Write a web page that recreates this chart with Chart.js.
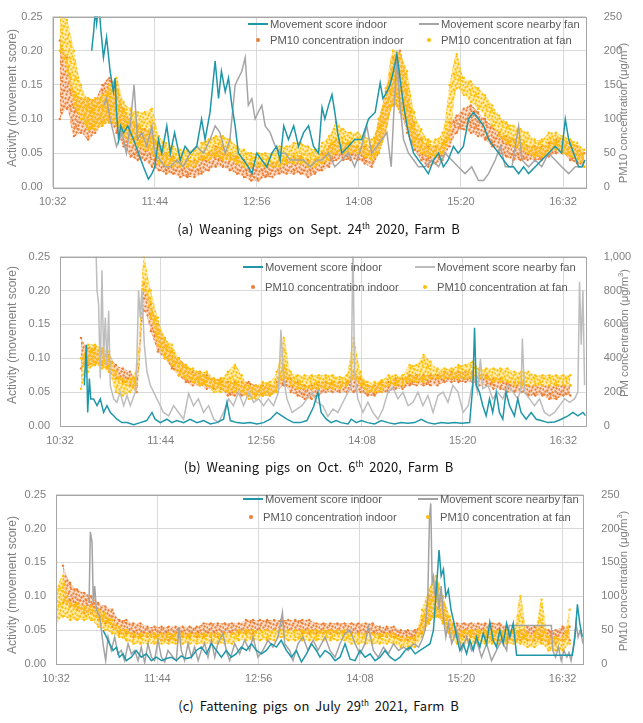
<!DOCTYPE html>
<html>
<head>
<meta charset="utf-8">
<script src="https://cdn.jsdelivr.net/npm/chart.js@4.4.1/dist/chart.umd.min.js"></script>
<style>
    html, body { margin: 0; padding: 0; background: #fff; }
    #page { position: relative; width: 643px; height: 723px; overflow: hidden; font-family: "Liberation Sans", Arial, sans-serif; }
    .panel { position: absolute; left: 0; width: 643px; height: 210px; }
    .panel canvas { display: block; }
    .ytitle { position: absolute; white-space: nowrap; color: #7f7f7f; font-size: 12px; transform: translate(-50%, -50%) rotate(-90deg); }
    .ytitle.right { font-size: 11.3px; }
    .ytitle sup { font-size: 7.5px; }
    .item { position: absolute; height: 14px; display: flex; align-items: center; color: #595959; font-size: 11.2px; white-space: nowrap; }
    .mark { width: 20px; height: 14px; position: relative; margin-right: 2px; }
    .mark.line::after { content: ""; position: absolute; left: 0; right: 0; top: 6px; height: 2px; background: var(--c); }
    .mark.dot::after { content: ""; position: absolute; left: 8px; top: 5px; width: 4px; height: 4px; border-radius: 2px; background: var(--c); }
    .caption { position: absolute; left: 0; width: 637px; text-align: center; font-family: "Noto Sans CJK KR", sans-serif; font-size: 13px; color: #111; word-spacing: 3px; }
    .caption sup { font-size: 8px; }
</style>
</head>
<body>
<div id="page">
    <div class="panel" style="top:0"><canvas id="chartSep" width="643" height="210"></canvas></div>
    <div class="panel" style="top:240px"><canvas id="chartOct" width="643" height="210"></canvas></div>
    <div class="panel" style="top:478px"><canvas id="chartJul" width="643" height="210"></canvas></div>

    <div class="ytitle" style="left:12px;top:98px">Activity (movement score)</div>
    <div class="ytitle right" style="left:622px;top:113px">PM10 concentration (μg/m<sup>3</sup>)</div>
    <div class="ytitle" style="left:12px;top:335px">Activity (movement score)</div>
    <div class="ytitle right" style="left:623px;top:333px">PM concentration (μg/m<sup>3</sup>)</div>
    <div class="ytitle" style="left:12px;top:585px">Activity (movement score)</div>
    <div class="ytitle right" style="left:622px;top:581px">PM10 concentration (μg/m<sup>3</sup>)</div>

    <div class="caption" style="top:219px">(a) Weaning pigs on Sept. 24<sup>th</sup> 2020, Farm B</div>
    <div class="caption" style="top:457px">(b) Weaning pigs on Oct. 6<sup>th</sup> 2020, Farm B</div>
    <div class="caption" style="top:696px">(c) Fattening pigs on July 29<sup>th</sup> 2021, Farm B</div>
</div>

<script>
// x axis: minutes after 10:32
const tickMinutes = [0, 72, 144, 216, 288, 360];
const tickLabels = ['10:32', '11:44', '12:56', '14:08', '15:20', '16:32'];

const legendNames = ['Movement score indoor', 'Movement score nearby fan', 'PM10 concentration indoor', 'PM10 concentration at fan'];

// PM sampling grid (min), 5 min steps
const pmTime = [
    0, 5, 10, 15, 20, 25, 30, 35, 40, 45,
    50, 55, 60, 65, 70, 75, 80, 85, 90, 95,
    100, 105, 110, 115, 120, 125, 130, 135, 140, 145,
    150, 155, 160, 165, 170, 175, 180, 185, 190, 195,
    200, 205, 210, 215, 220, 225, 230, 235, 240, 245,
    250, 255, 260, 265, 270, 275, 280, 285, 290, 295,
    300, 305, 310, 315, 320, 325, 330, 335, 340, 345,
    350, 355, 360, 365, 370, 375,
];

// ---- (a) Sept. 24th 2020 ----
const sepIndoorTime = [27.5, 29, 30, 31, 32.5, 34, 35.8, 38, 40.5, 42.8, 44, 45, 46.5, 48, 50, 53, 57, 60.5, 64, 67.5, 70, 72, 74.6, 77, 80.5, 83, 86, 90, 93.4, 97, 101.6, 105, 107.5, 111, 114.6, 117, 119, 121.7, 124, 126.4, 128.7, 131, 134.6, 138, 140.5, 144, 147.5, 151, 154.6, 158, 160.5, 163, 166.3, 170, 173.4, 177, 180.5, 184, 187.5, 190, 192, 194.6, 197, 199, 201, 204, 208.7, 213, 218, 222.8, 227.5, 231, 233, 235.8, 238, 240.4, 242.8, 245, 247.5, 250, 252, 254.6, 258, 261.7, 265, 268.7, 272.2, 275.6, 279, 282.7, 286, 289.7, 293.3, 296.8, 300.4, 304, 307.5, 311, 314.6, 318, 321.7, 325, 328.7, 332.2, 335.7, 340.4, 345, 349.8, 354.5, 359, 361.6, 364, 367.5, 371, 373.4, 375.3];
const sepIndoorMove = [0.20, 0.23, 0.26, 0.24, 0.27, 0.23, 0.19, 0.22, 0.17, 0.14, 0.16, 0.11, 0.07, 0.09, 0.08, 0.09, 0.07, 0.05, 0.03, 0.012, 0.02, 0.03, 0.07, 0.05, 0.09, 0.05, 0.08, 0.04, 0.06, 0.05, 0.06, 0.10, 0.07, 0.11, 0.185, 0.13, 0.17, 0.14, 0.16, 0.12, 0.09, 0.05, 0.04, 0.03, 0.02, 0.05, 0.04, 0.03, 0.05, 0.06, 0.04, 0.09, 0.07, 0.09, 0.06, 0.08, 0.09, 0.06, 0.05, 0.117, 0.10, 0.12, 0.136, 0.11, 0.08, 0.05, 0.06, 0.07, 0.07, 0.10, 0.11, 0.153, 0.13, 0.14, 0.15, 0.17, 0.195, 0.16, 0.12, 0.09, 0.07, 0.05, 0.04, 0.03, 0.02, 0.04, 0.05, 0.03, 0.04, 0.06, 0.05, 0.06, 0.10, 0.11, 0.10, 0.09, 0.07, 0.06, 0.05, 0.04, 0.03, 0.03, 0.02, 0.03, 0.02, 0.03, 0.04, 0.05, 0.06, 0.05, 0.10, 0.07, 0.05, 0.03, 0.03, 0.04];
const sepFanTime = [36, 38, 40.5, 42.8, 45, 48.7, 52, 54.6, 57.4, 59.8, 62.8, 66.4, 70, 72, 75.8, 79.3, 83, 87.5, 92, 97, 101.6, 106.4, 111, 114.6, 118, 121.7, 125, 128.7, 131, 133.4, 135.8, 138, 140.5, 142.8, 145, 147.5, 149.9, 153.4, 157, 160.5, 164, 167.5, 172.2, 177, 181.6, 186.4, 190, 194.6, 199, 204, 208.7, 213, 218, 221.6, 225, 228.6, 232.2, 235.8, 238.8, 240.4, 242.8, 245, 247.5, 251, 254.6, 258, 262.7, 267.5, 272.2, 276.8, 281.5, 286, 290.9, 295.6, 300.4, 304, 307.5, 312.2, 315.8, 319.3, 324, 328.7, 331, 335.7, 340.4, 345, 349.8, 354.5, 359, 364, 368.6, 373.4, 375.7];
const sepFanMove = [0.12, 0.13, 0.10, 0.08, 0.06, 0.08, 0.05, 0.09, 0.15, 0.07, 0.08, 0.06, 0.09, 0.05, 0.04, 0.03, 0.03, 0.04, 0.03, 0.05, 0.06, 0.05, 0.07, 0.09, 0.08, 0.05, 0.07, 0.15, 0.16, 0.17, 0.19, 0.12, 0.13, 0.10, 0.11, 0.12, 0.09, 0.08, 0.06, 0.05, 0.05, 0.04, 0.04, 0.04, 0.03, 0.04, 0.04, 0.05, 0.03, 0.04, 0.05, 0.03, 0.06, 0.09, 0.05, 0.06, 0.07, 0.08, 0.03, 0.10, 0.19, 0.12, 0.07, 0.05, 0.04, 0.03, 0.03, 0.04, 0.03, 0.05, 0.04, 0.03, 0.02, 0.03, 0.01, 0.01, 0.02, 0.04, 0.06, 0.03, 0.03, 0.09, 0.04, 0.03, 0.04, 0.03, 0.05, 0.04, 0.03, 0.02, 0.03, 0.03, 0.04];
const sepPmIndoorLo = [
    null, 100, 115, 75, 80, 70, 80, 90, 95, 80,
    60, 45, 40, 40, 30, 25, 20, 20, 15, 15,
    15, 20, 25, 30, 30, 25, 20, 15, 10, 10,
    15, 15, 20, 20, 20, 20, 15, 20, 25, 30,
    40, 40, 40, 40, 35, 30, 50, 80, 120, 110,
    80, 55, 40, 30, 35, 40, 60, 80, 85, 80,
    75, 70, 60, 50, 45, 40, 40, 40, 40, 40,
    45, 50, 50, 40, 35, 30,
];
const sepPmIndoorHi = [
    null, 215, 190, 140, 130, 130, 130, 150, 160, 150,
    115, 100, 90, 85, 80, 60, 50, 45, 40, 40,
    40, 45, 50, 60, 60, 50, 45, 40, 35, 35,
    35, 35, 40, 40, 45, 45, 40, 40, 50, 60,
    70, 65, 65, 60, 60, 60, 100, 140, 190, 200,
    150, 95, 70, 60, 60, 65, 95, 105, 115, 120,
    110, 100, 90, 80, 75, 70, 65, 60, 60, 60,
    65, 70, 70, 65, 60, 50,
];
const sepPmFanLo = [
    null, 200, 170, 120, 100, 85, 85, 90, 95, 90,
    75, 65, 60, 55, 50, 35, 30, 30, 30, 30,
    30, 40, 40, 45, 40, 40, 35, 30, 30, 30,
    30, 30, 30, 35, 35, 35, 30, 30, 35, 40,
    50, 50, 50, 50, 45, 40, 50, 80, 120, 110,
    90, 60, 50, 45, 45, 50, 70, 145, 135, 125,
    115, 105, 90, 75, 65, 60, 55, 50, 45, 45,
    50, 55, 50, 45, 40, 30,
];
const sepPmFanHi = [
    null, 250, 245, 200, 150, 130, 130, 135, 150, 160,
    125, 115, 110, 110, 115, 75, 65, 60, 55, 55,
    55, 65, 70, 75, 75, 70, 60, 55, 50, 50,
    50, 50, 60, 60, 65, 65, 60, 55, 65, 75,
    95, 85, 80, 80, 75, 70, 100, 145, 200, 195,
    170, 110, 85, 70, 70, 80, 150, 195, 160, 155,
    145, 135, 120, 105, 95, 90, 85, 80, 70, 70,
    80, 80, 75, 70, 65, 55,
];

// ---- (b) Oct. 6th 2020 ----
const octIndoorTime = [17.4, 18.8, 19.8, 21, 22, 24, 26.5, 28.8, 31.2, 33.6, 36, 38.4, 40.7, 44.3, 48, 52.7, 57.4, 62, 65.8, 68, 71.7, 76.5, 80, 83.6, 88.4, 93, 98, 102.7, 107.5, 112, 117, 119.4, 121.8, 126.5, 131.3, 136, 140.8, 145.6, 150.4, 155, 158.7, 162.3, 167, 171.8, 176.6, 181.3, 184.5, 186.8, 190.4, 194, 197.6, 201, 206, 208.3, 211.9, 215.5, 220, 225, 229.8, 234.6, 239.3, 244, 248.8, 253.6, 258.4, 263, 267.9, 272.7, 277.5, 282.2, 287, 293, 295.3, 296.5, 297.7, 300, 302.4, 304.8, 307.2, 309.5, 312, 314.3, 316.7, 319, 321.5, 325, 327.4, 329.8, 333.4, 337, 340.6, 344.2, 349, 353.7, 358.5, 363.3, 366.9, 370.4, 374, 376];
const octIndoorMove = [0.06, 0.12, 0.02, 0.07, 0.04, 0.04, 0.03, 0.04, 0.02, 0.03, 0.02, 0.015, 0.01, 0.005, 0.005, 0.002, 0.005, 0.008, 0.02, 0.01, 0.005, 0.01, 0.005, 0.008, 0.005, 0.01, 0.005, 0.008, 0.003, 0.005, 0.01, 0.035, 0.008, 0.005, 0.004, 0.005, 0.003, 0.005, 0.01, 0.02, 0.015, 0.01, 0.005, 0.005, 0.008, 0.028, 0.05, 0.02, 0.01, 0.005, 0.008, 0.005, 0.003, 0.01, 0.005, 0.008, 0.005, 0.003, 0.008, 0.005, 0.003, 0.005, 0.004, 0.005, 0.01, 0.005, 0.003, 0.005, 0.004, 0.005, 0.004, 0.005, 0.06, 0.145, 0.06, 0.05, 0.03, 0.015, 0.04, 0.02, 0.05, 0.02, 0.01, 0.05, 0.03, 0.015, 0.04, 0.02, 0.01, 0.02, 0.01, 0.008, 0.005, 0.006, 0.01, 0.015, 0.02, 0.015, 0.02, 0.015];
const octFanTime = [24, 25.3, 26.5, 27.6, 28.8, 30, 31.2, 32.4, 33.6, 34.8, 36, 38.4, 40.7, 43, 45.5, 48, 50.3, 53.9, 55, 56.2, 57.4, 58.6, 60.3, 62.2, 64.6, 67, 69.3, 71.7, 74, 77.7, 81.3, 84.8, 88.4, 92, 95.5, 99, 102.7, 106.3, 110, 113.4, 117, 120.6, 124, 127.7, 131.3, 135, 138.5, 142, 145.6, 149, 152.7, 156.3, 158, 160, 162.3, 166, 169.4, 173, 176.6, 180.2, 183.7, 188, 191.6, 195.2, 198.8, 202.4, 206, 208.3, 209.5, 210.7, 213, 216.7, 220.2, 223.8, 227.4, 231, 234.6, 238, 241.7, 245.3, 249, 252.5, 256, 259.6, 263.2, 266.8, 270.4, 274, 277.5, 281, 284.7, 288.3, 292, 294.8, 296.5, 298.6, 300.7, 302.4, 306, 309.5, 313, 316.7, 320.3, 324, 327.4, 329.8, 330.7, 332.2, 335.8, 339.4, 343, 346.5, 350, 353.7, 357.3, 361, 364.5, 368, 370.4, 371.6, 372.8, 374, 375.2];
const octFanMove = [0.27, 0.30, 0.20, 0.18, 0.07, 0.23, 0.10, 0.16, 0.09, 0.17, 0.06, 0.04, 0.035, 0.05, 0.03, 0.045, 0.03, 0.05, 0.10, 0.20, 0.16, 0.20, 0.12, 0.08, 0.06, 0.05, 0.04, 0.03, 0.02, 0.015, 0.03, 0.02, 0.01, 0.048, 0.03, 0.04, 0.02, 0.03, 0.01, 0.005, 0.02, 0.04, 0.03, 0.05, 0.03, 0.05, 0.035, 0.04, 0.03, 0.04, 0.03, 0.05, 0.142, 0.07, 0.04, 0.02, 0.025, 0.03, 0.04, 0.05, 0.035, 0.03, 0.014, 0.025, 0.02, 0.035, 0.05, 0.06, 0.27, 0.08, 0.04, 0.02, 0.035, 0.02, 0.01, 0.025, 0.05, 0.057, 0.04, 0.05, 0.03, 0.035, 0.05, 0.03, 0.045, 0.02, 0.045, 0.05, 0.035, 0.06, 0.05, 0.02, 0.03, 0.06, 0.07, 0.05, 0.099, 0.055, 0.06, 0.04, 0.05, 0.04, 0.06, 0.05, 0.04, 0.055, 0.129, 0.05, 0.04, 0.03, 0.04, 0.02, 0.015, 0.02, 0.03, 0.04, 0.035, 0.04, 0.05, 0.213, 0.12, 0.20, 0.06];
const octPmIndoorLo = [
    null, null, null, 340, 360, 360, 360, 320, 280, 260,
    240, 200, 680, 560, 440, 400, 340, 300, 260, 240,
    240, 220, 220, 220, 180, 180, 180, 180, 180, 180,
    180, 200, 240, 200, 180, 160, 160, 180, 200, 200,
    200, 200, 200, 200, 180, 180, 200, 200, 220, 220,
    240, 240, 240, 240, 240, 260, 260, 260, 260, 260,
    240, 240, 220, 220, 200, 200, 200, 180, 180, 180,
    160, 160, 180, 180, null, null,
];
const octPmIndoorHi = [
    null, null, null, 520, 460, 460, 440, 420, 360, 340,
    320, 280, 840, 720, 600, 520, 440, 400, 360, 320,
    320, 300, 280, 280, 260, 260, 260, 260, 240, 240,
    240, 260, 360, 280, 260, 240, 240, 260, 260, 260,
    260, 260, 320, 280, 240, 240, 260, 260, 280, 280,
    300, 300, 300, 300, 300, 320, 320, 320, 320, 320,
    300, 300, 280, 280, 260, 260, 260, 240, 240, 240,
    240, 240, 240, 240, null, null,
];
const octPmFanLo = [
    null, null, null, 220, 320, 360, 340, 320, 200, 180,
    200, 240, 800, 640, 480, 400, 360, 300, 280, 260,
    240, 240, 200, 200, 200, 200, 200, 160, 160, 180,
    180, 200, 280, 240, 220, 220, 220, 220, 220, 220,
    220, 240, 280, 240, 200, 200, 200, 240, 240, 240,
    260, 260, 260, 280, 280, 280, 280, 280, 280, 280,
    280, 280, 260, 260, 260, 240, 240, 240, 240, 240,
    240, 240, 240, 240, null, null,
];
const octPmFanHi = [
    null, null, null, 400, 480, 480, 460, 440, 320, 280,
    280, 360, 1000, 800, 640, 520, 480, 400, 360, 340,
    320, 320, 280, 280, 320, 360, 300, 240, 240, 260,
    260, 320, 520, 320, 300, 300, 300, 300, 300, 300,
    290, 300, 520, 320, 260, 260, 270, 300, 300, 300,
    360, 360, 420, 380, 340, 340, 340, 360, 360, 380,
    340, 340, 340, 340, 340, 320, 320, 320, 300, 300,
    300, 300, 300, 300, null, null,
];

// ---- (c) July 29th 2021 ----
const julIndoorTime = [33.4, 35.8, 38, 40.5, 43, 45, 47.6, 50, 53.5, 57, 60.6, 64.2, 67.8, 71.3, 75, 78.4, 82, 85.5, 89, 92.6, 96, 99.7, 103.3, 106.8, 110.4, 114, 117.5, 121, 124.6, 128, 131.7, 135.3, 138.8, 142.4, 146, 149.5, 153, 156.6, 160, 163.7, 167.3, 170.8, 174.4, 178, 181.5, 185, 187.6, 191.2, 194.7, 198.3, 201.8, 205.4, 209, 212.5, 216, 219.6, 223.2, 226.7, 230.3, 233.8, 237.4, 241, 244.5, 248, 251.6, 255.2, 258.7, 262.3, 265.8, 268.2, 270.6, 272.2, 273.7, 275.3, 277, 278.8, 280.7, 282.4, 284.7, 287, 289.4, 291.8, 294.1, 296.5, 298.8, 301.2, 303.6, 306, 308.3, 310.7, 313, 315.4, 317.8, 320.2, 322.5, 324.9, 327.3, 366.9, 368.8, 370.5, 372.2, 374];
const julIndoorMove = [0.05, 0.04, 0.03, 0.02, 0.025, 0.01, 0.015, 0.005, 0.01, 0.02, 0.01, 0.015, 0.005, 0.01, 0.005, 0.008, 0.01, 0.005, 0.012, 0.008, 0.01, 0.02, 0.025, 0.015, 0.03, 0.02, 0.01, 0.02, 0.01, 0.015, 0.025, 0.02, 0.03, 0.02, 0.015, 0.02, 0.03, 0.025, 0.035, 0.02, 0.01, 0.02, 0.003, 0.015, 0.03, 0.02, 0.01, 0.02, 0.015, 0.005, 0.01, 0.03, 0.007, 0.005, 0.02, 0.01, 0.015, 0.005, 0.01, 0.02, 0.01, 0.005, 0.01, 0.02, 0.025, 0.015, 0.02, 0.025, 0.03, 0.05, 0.12, 0.168, 0.13, 0.14, 0.10, 0.11, 0.08, 0.065, 0.04, 0.02, 0.03, 0.015, 0.035, 0.02, 0.04, 0.025, 0.045, 0.03, 0.062, 0.035, 0.025, 0.05, 0.03, 0.06, 0.04, 0.06, 0.013, 0.013, 0.04, 0.088, 0.06, 0.04];
const julFanTime = [23.5, 24.4, 25.6, 26.5, 27.5, 28.7, 31, 33.4, 35.3, 37, 39.3, 41.7, 44, 46.4, 48.8, 51.2, 53.5, 56, 58.3, 60.6, 63, 65.4, 67.8, 70, 72.5, 74.9, 77.2, 79.6, 83.2, 85.5, 87.4, 89, 91.4, 93.8, 96.2, 98.5, 101, 103.3, 105.7, 108, 110.4, 112.8, 115, 118.7, 121, 123.4, 127, 130.5, 134, 137.6, 140, 143.5, 147, 150.7, 154.2, 157.8, 160.9, 162.5, 166, 168.4, 172, 175.5, 179, 182.7, 186.2, 191.2, 194.7, 198.3, 201.8, 205.4, 209, 212.5, 216, 219.6, 222, 225.5, 229, 232.7, 236.2, 239.8, 243.4, 247, 250.4, 254, 257.6, 260, 262.3, 264.2, 265.4, 266.3, 267.3, 268.2, 269.4, 270.6, 272.2, 273.7, 275.3, 277, 278.8, 281.2, 284.7, 288.3, 291.8, 295.3, 298.8, 302.4, 306, 309.5, 313, 316.6, 320.2, 322, 352, 353, 355, 357, 359, 361, 363, 364.5, 366, 368, 369.5, 371, 372.5, 374.5];
const julFanMove = [0.09, 0.195, 0.18, 0.09, 0.115, 0.08, 0.07, 0.03, 0.005, 0.04, 0.02, 0.04, 0.015, 0.02, 0.005, 0.03, 0.015, 0.02, 0.005, 0.025, 0.002, 0.03, 0.01, 0.005, 0.035, 0.01, 0.003, 0.02, 0.01, 0.005, 0.055, 0.02, 0.005, 0.03, 0.01, 0.025, 0.005, 0.02, 0.03, 0.01, 0.035, 0.01, 0.03, 0.045, 0.02, 0.005, 0.03, 0.015, 0.035, 0.02, 0.04, 0.01, 0.02, 0.035, 0.025, 0.04, 0.076, 0.03, 0.02, 0.005, 0.03, 0.04, 0.02, 0.035, 0.02, 0.04, 0.02, 0.01, 0.03, 0.045, 0.05, 0.03, 0.015, 0.03, 0.055, 0.02, 0.01, 0.025, 0.015, 0.03, 0.02, 0.025, 0.02, 0.03, 0.025, 0.035, 0.05, 0.10, 0.217, 0.237, 0.12, 0.129, 0.10, 0.122, 0.08, 0.115, 0.07, 0.04, 0.06, 0.03, 0.05, 0.02, 0.04, 0.02, 0.035, 0.01, 0.03, 0.005, 0.02, 0.035, 0.02, 0.057, 0.057, 0.02, 0.01, 0.025, 0.005, 0.02, 0.01, 0.017, 0.005, 0.03, 0.06, 0.04, 0.05, 0.03];
const julPmIndoorLo = [
    null, 90, 85, 80, 75, 75, 65, 60, 55, 45,
    45, 40, 40, 40, 40, 35, 35, 35, 40, 40,
    40, 40, 40, 40, 45, 45, 45, 45, 45, 50,
    50, 50, 50, 50, 50, 45, 45, 45, 45, 45,
    45, 45, 45, 45, 45, 45, 40, 40, 40, 35,
    35, 35, 45, 60, 70, 60, 40, 40, 40, 40,
    40, 40, 35, 35, 35, 35, 35, 35, 35, 35,
    30, 30, 35, 35, null, null,
];
const julPmIndoorHi = [
    null, 145, 120, 110, 105, 100, 90, 85, 80, 65,
    65, 60, 60, 55, 55, 55, 55, 55, 55, 55,
    55, 60, 60, 60, 60, 60, 60, 65, 65, 65,
    65, 65, 65, 65, 65, 65, 65, 60, 60, 60,
    60, 60, 60, 60, 60, 60, 55, 55, 55, 50,
    50, 50, 65, 100, 120, 100, 65, 60, 60, 60,
    60, 60, 60, 60, 55, 50, 50, 55, 55, 55,
    50, 50, 55, 55, null, null,
];
const julPmFanLo = [
    60, 70, 65, 65, 65, 65, 55, 50, 45, 40,
    35, 30, 30, 30, 30, 30, 30, 30, 30, 30,
    30, 30, 30, 30, 30, 30, 35, 35, 35, 35,
    35, 35, 40, 35, 35, 35, 35, 35, 35, 35,
    35, 35, 30, 30, 30, 30, 30, 30, 30, 25,
    25, 25, 40, 60, 70, 60, 40, 30, 30, 30,
    30, 30, 30, 30, 30, 30, 30, 25, 25, 30,
    20, 20, 20, 30, null, null,
];
const julPmFanHi = [
    110, 130, 90, 90, 85, 85, 80, 75, 65, 55,
    50, 45, 45, 45, 45, 45, 45, 45, 45, 45,
    45, 45, 45, 45, 45, 45, 50, 50, 50, 50,
    50, 50, 50, 50, 50, 50, 50, 50, 50, 50,
    50, 50, 45, 45, 45, 45, 45, 45, 45, 40,
    40, 40, 80, 110, 130, 100, 70, 50, 50, 50,
    50, 50, 50, 50, 50, 50, 100, 45, 45, 95,
    40, 40, 40, 80, null, null,
];

const TEAL = '#1f97a9';
const ORANGE = '#ed7d31';
const YELLOW = '#ffc000';
const TICK_FONT = { family: '"Liberation Sans", Arial, sans-serif', size: 11 };

// dotted texture used to fill the PM scatter clouds (16px tile)
const SPECKS = [
    [1, 2], [5, 1], [9, 3], [13, 0], [3, 6], [7, 5], [11, 7], [15, 5], [0, 10], [5, 9],
    [9, 11], [13, 9], [2, 14], [6, 13], [10, 15], [14, 13], [4, 3], [12, 4], [1, 7], [8, 8],
    [15, 10], [3, 11], [11, 12], [7, 15], [14, 1], [6, 10], [10, 0], [12, 14],
];

function speckle(color, wash) {
    const tile = document.createElement('canvas');
    tile.width = 16;
    tile.height = 16;
    const g = tile.getContext('2d');
    g.fillStyle = wash;
    g.fillRect(0, 0, 16, 16);
    g.fillStyle = color;
    SPECKS.forEach(([x, y]) => {
        g.beginPath();
        g.arc(x + 0.5, y + 0.5, 1.15, 0, Math.PI * 2);
        g.fill();
    });
    return g.createPattern(tile, 'repeat');
}

const plotFrame = {
    id: 'plotFrame',
    afterDatasetsDraw(chart) {
        const { ctx, chartArea: a } = chart;
        ctx.save();
        ctx.strokeStyle = '#a6a6a6';
        ctx.lineWidth = 1;
        ctx.strokeRect(Math.round(a.left) + 0.5, Math.round(a.top) + 0.5, Math.round(a.right - a.left), Math.round(a.bottom - a.top));
        ctx.restore();
    },
};

function pairs(times, values) {
    return times.map((t, i) => ({ x: t, y: values[i] }));
}

function lineSet(times, values, color) {
    return {
        data: pairs(times, values),
        borderColor: color,
        borderWidth: 1.5,
        pointRadius: 0,
        tension: 0,
        fill: false,
        yAxisID: 'y',
    };
}

function dotSet(values, color, band) {
    return {
        data: pairs(pmTime, values),
        showLine: true,
        borderWidth: 0,
        borderColor: 'rgba(0,0,0,0)',
        backgroundColor: band || 'rgba(0,0,0,0)',
        fill: band ? '-1' : false,
        tension: 0.3,
        pointRadius: 1.2,
        pointBorderWidth: 0,
        pointBackgroundColor: color,
        yAxisID: 'pm',
    };
}

function buildPanel(canvasId, p) {
    new Chart(document.getElementById(canvasId), {
        type: 'line',
        data: {
            datasets: [
                lineSet(p.indoorTime, p.indoorMove, TEAL),
                lineSet(p.fanTime, p.fanMove, p.grey),
                dotSet(p.fanLo, YELLOW, null),
                dotSet(p.fanHi, YELLOW, speckle(YELLOW, 'rgba(255,192,0,0.3)')),
                dotSet(p.indoorLo, ORANGE, null),
                dotSet(p.indoorHi, ORANGE, speckle(ORANGE, 'rgba(237,125,49,0.25)')),
            ],
        },
        options: {
            responsive: false,
            animation: false,
            layout: { padding: { top: p.padTop, left: 0, right: 0, bottom: 0 } },
            plugins: {
                legend: { display: false },
                tooltip: { enabled: false },
            },
            scales: {
                x: {
                    type: 'linear',
                    min: 0,
                    max: p.xMax,
                    afterFit: (s) => { s.height = p.xHeight; },
                    afterBuildTicks: (s) => { s.ticks = tickMinutes.map((v) => ({ value: v })); },
                    grid: { color: '#d9d9d9', drawTicks: false },
                    border: { display: false },
                    ticks: {
                        padding: 8,
                        color: '#7f7f7f',
                        font: TICK_FONT,
                        maxRotation: 0,
                        autoSkip: false,
                        callback: (v) => tickLabels[tickMinutes.indexOf(v)],
                    },
                },
                y: {
                    position: 'left',
                    min: 0,
                    max: 0.25,
                    afterFit: (s) => { s.width = p.leftWidth; },
                    grid: { color: '#d9d9d9', drawTicks: false },
                    border: { display: false },
                    ticks: {
                        stepSize: 0.05,
                        padding: 10,
                        color: '#7f7f7f',
                        font: TICK_FONT,
                        callback: (v) => v.toFixed(2),
                    },
                },
                pm: {
                    position: 'right',
                    min: 0,
                    max: p.pmMax,
                    afterFit: (s) => { s.width = p.rightWidth; },
                    grid: { display: false },
                    border: { display: false },
                    ticks: {
                        stepSize: p.pmStep,
                        padding: 10,
                        color: '#7f7f7f',
                        font: TICK_FONT,
                        callback: (v) => v.toLocaleString('en-US'),
                    },
                },
            },
        },
        plugins: [plotFrame],
    });
}

function addLegend(rows, cols) {
    const page = document.getElementById('page');
    const kinds = [['line', TEAL], ['line', cols.grey], ['dot', ORANGE], ['dot', YELLOW]];
    legendNames.forEach((name, i) => {
        const row = Math.floor(i / 2);
        const textX = i % 2 === 0 ? cols.left[row] : cols.right[row];
        const item = document.createElement('div');
        item.className = 'item';
        item.style.left = (textX - 22) + 'px';
        item.style.top = (rows[row] - 7) + 'px';
        const mark = document.createElement('span');
        mark.className = 'mark ' + kinds[i][0];
        mark.style.setProperty('--c', kinds[i][1]);
        item.appendChild(mark);
        item.appendChild(document.createTextNode(name));
        page.appendChild(item);
    });
}

buildPanel('chartSep', {
    padTop: 15.3, xHeight: 22.7, leftWidth: 52.7, rightWidth: 57.3, xMax: 376,
    pmMax: 250, pmStep: 50, grey: '#a5a5a5',
    indoorTime: sepIndoorTime, indoorMove: sepIndoorMove,
    fanTime: sepFanTime, fanMove: sepFanMove,
    indoorLo: sepPmIndoorLo, indoorHi: sepPmIndoorHi,
    fanLo: sepPmFanLo, fanHi: sepPmFanHi,
});
buildPanel('chartOct', {
    padTop: 14.7, xHeight: 24, leftWidth: 60, rightWidth: 57.3, xMax: 376,
    pmMax: 1000, pmStep: 200, grey: '#bdbdbd',
    indoorTime: octIndoorTime, indoorMove: octIndoorMove,
    fanTime: octFanTime, fanMove: octFanMove,
    indoorLo: octPmIndoorLo, indoorHi: octPmIndoorHi,
    fanLo: octPmFanLo, fanHi: octPmFanHi,
});
buildPanel('chartJul', {
    padTop: 12, xHeight: 24, leftWidth: 56, rightWidth: 59.7, xMax: 374.7,
    pmMax: 250, pmStep: 50, grey: '#a3a3a3',
    indoorTime: julIndoorTime, indoorMove: julIndoorMove,
    fanTime: julFanTime, fanMove: julFanMove,
    indoorLo: julPmIndoorLo, indoorHi: julPmIndoorHi,
    fanLo: julPmFanLo, fanHi: julPmFanHi,
});

// legend positions: [row y centres], text start x per column
addLegend([24, 40], { left: [270, 270], right: [441, 441], grey: '#a5a5a5' });
addLegend([267, 287], { left: [265, 265], right: [437, 437], grey: '#bdbdbd' });
addLegend([499, 517], { left: [265, 263], right: [440, 440], grey: '#a3a3a3' });
</script>
</body>
</html>
